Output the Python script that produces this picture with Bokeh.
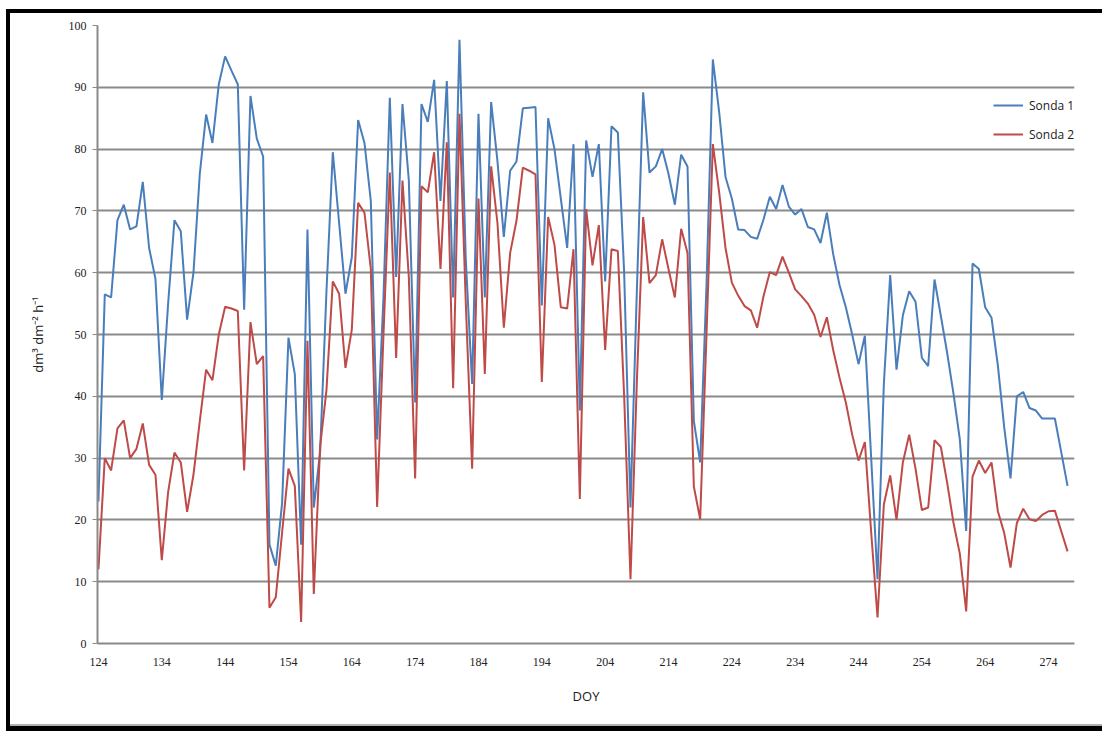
from bokeh.plotting import figure
from bokeh.models import ColumnDataSource, FixedTicker, Legend, LegendItem, Range1d
from bokeh.embed import file_html
from bokeh.resources import INLINE

# Day of year (daily readings)
doy = list(range(124, 278))

# Sonda 1 readings, dm3 dm-2 h-1
sonda1 = [
    23, 56.5, 56, 68.5, 71, 67, 67.5, 74.7, 64, 59,
    39.4, 55, 68.5, 66.7, 52.4, 60, 76, 85.6, 81, 90.5,
    95, 92.7, 90.5, 54, 88.6, 81.7, 78.8, 16, 12.6, 22.8,
    49.5, 43.6, 16, 67, 22, 31, 57, 79.5, 68, 56.6,
    62.5, 84.7, 81, 71.6, 33, 56, 88.3, 59.3, 87.3, 75,
    39, 87.3, 84.4, 91.2, 71.6, 91, 56, 97.7, 62, 42,
    85.7, 56, 87.6, 78, 65.8, 76.5, 78, 86.6, 86.7, 86.8,
    54.7, 85, 80, 72, 64, 80.8, 37.7, 81.4, 75.5, 80.8,
    58.6, 83.7, 82.7, 60, 22, 57, 89.2, 76.2, 77.2, 80,
    76, 71, 79.1, 77.2, 36, 29.3, 58, 94.5, 86, 75.5,
    72, 67, 66.9, 65.8, 65.5, 68.6, 72.3, 70.3, 74.2, 70.7,
    69.4, 70.3, 67.4, 67, 64.8, 69.7, 63, 58, 54.4, 50,
    45.2, 49.8, 30, 10.4, 42, 59.6, 44.3, 53.1, 57, 55.3,
    46.2, 44.9, 58.9, 53, 47, 40.4, 33, 18.2, 61.5, 60.6,
    54.4, 52.7, 45, 35, 26.7, 40, 40.7, 38.1, 37.7, 36.4,
    36.4, 36.4, 31, 25.5,
]

# Sonda 2 readings, dm3 dm-2 h-1
sonda2 = [
    12, 30, 28, 34.8, 36.1, 30, 31.5, 35.6, 28.9, 27.3,
    13.5, 24.5, 30.9, 29.3, 21.3, 27.3, 36, 44.3, 42.6, 50,
    54.5, 54.2, 53.8, 28, 52, 45.2, 46.5, 5.8, 7.5, 18,
    28.3, 25.5, 3.5, 49, 8, 31.9, 41, 58.6, 56.6, 44.6,
    50.8, 71.3, 69.7, 60.6, 22.1, 50, 76.2, 46.2, 74.9, 59.3,
    26.7, 74, 73, 79.5, 60.6, 81.1, 41.3, 85.7, 55, 28.3,
    72, 43.6, 77.2, 68, 51.1, 63.2, 68.4, 77, 76.5, 75.9,
    42.3, 69, 64.5, 54.4, 54.2, 63.8, 23.4, 70.3, 61.2, 67.7,
    47.5, 63.8, 63.5, 40, 10.4, 42.3, 69, 58.3, 59.6, 65.4,
    60.6, 56, 67.1, 63.2, 25.4, 20.1, 50, 80.8, 73, 64,
    58.4, 56.3, 54.6, 53.9, 51.1, 56.2, 60.1, 59.6, 62.6, 60,
    57.3, 56.2, 55, 53.2, 49.6, 52.8, 47.5, 43, 39, 33.8,
    29.6, 32.6, 18, 4.2, 22.5, 27.2, 20, 29.3, 33.8, 28.3,
    21.6, 22, 32.9, 31.8, 26, 19.5, 14.5, 5.2, 27, 29.6,
    27.6, 29.3, 21.4, 17.9, 12.3, 19.5, 21.8, 20.1, 19.8, 20.8,
    21.4, 21.5, 18.2, 14.9,
]

x_ticks = [124, 134, 144, 154, 164, 174, 184, 194, 204, 214, 224, 234, 244, 254, 264, 274]
y_ticks = [0, 10, 20, 30, 40, 50, 60, 70, 80, 90, 100]
series_names = ["Sonda 1", "Sonda 2"]
series_colors = ["#4A7EBB", "#BE4B48"]

source = ColumnDataSource(data=dict(doy=doy, s1=sonda1, s2=sonda2))

GRID = "#8a8a8a"
TEXT = "#222222"

p = figure(
    width=1102, height=731,
    x_range=Range1d(123.85, 278.1), y_range=Range1d(0, 100),
    output_backend="svg", toolbar_location=None,
    min_border_left=97, min_border_right=28,
    min_border_top=25, min_border_bottom=88,
    background_fill_color="white", border_fill_color="white",
)
p.outline_line_color = None

r1 = p.line("doy", "s1", source=source, line_color=series_colors[0], line_width=2)
r2 = p.line("doy", "s2", source=source, line_color=series_colors[1], line_width=2)

# horizontal grid
p.xgrid.grid_line_color = None
p.ygrid.ticker = FixedTicker(ticks=y_ticks[1:])
p.ygrid.grid_line_color = GRID
p.ygrid.grid_line_width = 2

tick_font = "Liberation Sans Narrow"

# x axis
xa = p.xaxis[0]
xa.ticker = FixedTicker(ticks=x_ticks)
xa.axis_line_color = GRID
xa.axis_line_width = 2
xa.major_tick_line_color = None
xa.minor_tick_line_color = None
xa.major_tick_out = 0
xa.major_label_standoff = 14
xa.major_label_text_font = tick_font
xa.major_label_text_font_size = "12px"
xa.major_label_text_color = TEXT
xa.axis_label = "DOY"
xa.axis_label_text_font = "Open Sans"
xa.axis_label_text_font_style = "normal"
xa.axis_label_text_font_size = "13px"
xa.axis_label_text_color = TEXT
xa.axis_label_standoff = 18

# y axis
ya = p.yaxis[0]
ya.ticker = FixedTicker(ticks=y_ticks)
ya.axis_line_color = GRID
ya.axis_line_width = 2
ya.major_tick_line_color = GRID
ya.major_tick_line_width = 1
ya.major_tick_out = 5
ya.major_tick_in = 0
ya.minor_tick_line_color = None
ya.major_label_standoff = 6
ya.major_label_text_font = tick_font
ya.major_label_text_font_size = "12px"
ya.major_label_text_color = TEXT
ya.axis_label = "dm\u00b3 dm\u207b\u00b2 h\u207b\u00b9"
ya.axis_label_text_font = "Open Sans"
ya.axis_label_text_font_style = "normal"
ya.axis_label_text_font_size = "13px"
ya.axis_label_text_color = TEXT
ya.axis_label_standoff = 19

legend = Legend(
    items=[LegendItem(label=series_names[0], renderers=[r1]),
           LegendItem(label=series_names[1], renderers=[r2])],
    location=(896, 499),
    glyph_width=30, glyph_height=20, label_height=20,
    spacing=9, padding=0, margin=0, label_standoff=6,
    border_line_color=None, background_fill_alpha=0,
    label_text_font="Open Sans", label_text_font_size="12px",
    label_text_color=TEXT,
)
p.add_layout(legend)

# black chart-area frame drawn over the page (open on the right side)
frame_css = """
<style>
body::after {
  content: "";
  position: fixed;
  left: 6px; top: 9px; right: -20px; bottom: 0px;
  border-left: 4px solid #000;
  border-top: 4px solid #000;
  border-bottom: 5px solid #000;
  box-shadow: inset 0 -2px 0 #b0b0b0;
  box-sizing: border-box;
  pointer-events: none;
  z-index: 10;
}
</style>
"""

html = file_html(p, INLINE)
html = html.replace("</head>", frame_css + "</head>", 1)
open("out.html", "w").write(html)
